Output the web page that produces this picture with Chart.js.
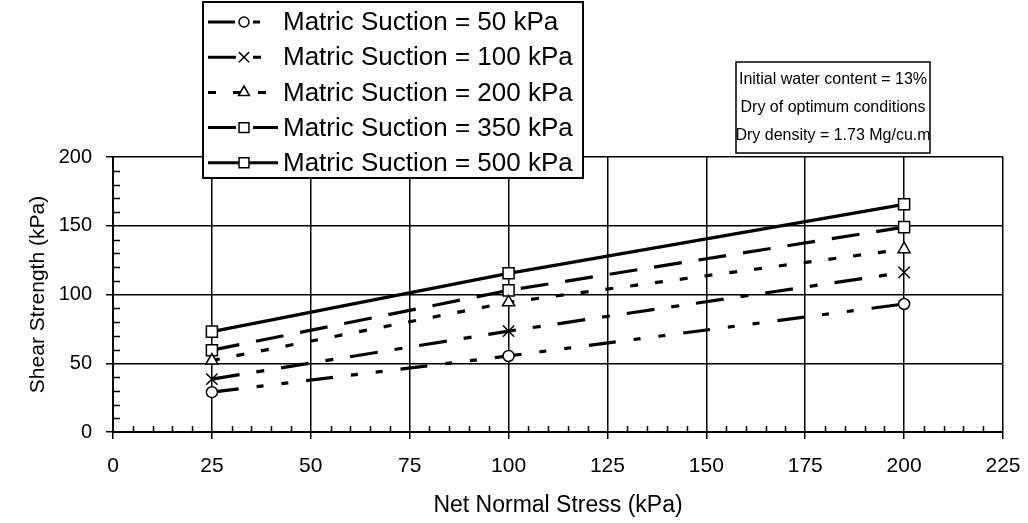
<!DOCTYPE html>
<html><head><meta charset="utf-8">
<script src="https://cdn.jsdelivr.net/npm/chart.js@4.4.1/dist/chart.umd.min.js"></script>
<style>html,body{margin:0;padding:0;background:#fff;}#wrap{width:1028px;height:523px;}</style>
</head><body><div id="wrap"><canvas id="c" width="1028" height="523"></canvas></div>
<script>
const netNormalStress = [25, 100, 200];
const suction50 = [29, 55.3, 93.1];
const suction100 = [38.5, 73.4, 116.1];
const suction200 = [52, 94.3, 133];
const suction350 = [59.5, 103, 149];
const suction500 = [73, 115.4, 165.6];
const seriesLabels = ['Matric Suction = 50 kPa','Matric Suction = 100 kPa','Matric Suction = 200 kPa','Matric Suction = 350 kPa','Matric Suction = 500 kPa'];
const noteLines = ['Initial water content = 13%','Dry of optimum conditions','Dry density = 1.73 Mg/cu.m'];
const xTitle = 'Net Normal Stress (kPa)';
const yTitle = 'Shear Strength (kPa)';

const FONT = '"Liberation Sans", Arial, sans-serif';
const styles = [
  {pointStyle:'circle', radius:5.5, dash:[27,18,7,18,7,18]},
  {pointStyle:'crossRot', radius:8, dash:[28,17,8,17]},
  {pointStyle:'triangle', radius:7, dash:[8,17]},
  {pointStyle:'rect', radius:7.8, dash:[28,17]},
  {pointStyle:'rect', radius:7.8, dash:[]}
];
const seriesValues = [suction50, suction100, suction200, suction350, suction500];
const datasets = seriesValues.map((vals, i) => ({
  label: seriesLabels[i],
  data: netNormalStress.map((x, j) => ({x: x, y: vals[j]})),
  borderColor: '#000',
  borderWidth: 3.2,
  borderDash: styles[i].dash,
  backgroundColor: '#fff',
  pointStyle: styles[i].pointStyle,
  pointRadius: styles[i].radius,
  pointBorderWidth: 1.5,
  pointBorderColor: '#000',
  pointBackgroundColor: '#fff',
  fill: false,
  tension: 0
}));

function drawMarker(ctx, style, r, x, y) {
  ctx.save();
  ctx.setLineDash([]);
  ctx.fillStyle = '#fff';
  ctx.strokeStyle = '#000';
  ctx.lineWidth = 1.5;
  Chart.helpers.drawPoint(ctx, {pointStyle: style, radius: r, rotation: 0, borderWidth: 1.5}, x, y);
  ctx.restore();
}

const minorTicks = {
  id: 'minorTicks',
  beforeDatasetsDraw(chart) {
    const {ctx, scales: {x, y}, chartArea: a} = chart;
    ctx.save();
    ctx.strokeStyle = '#000';
    ctx.lineWidth = 1.5;
    ctx.beginPath();
    for (let v = 5; v < 225; v += 5) {
      if (v % 25 === 0) continue;
      const px = Math.round(x.getPixelForValue(v)) + 0.5;
      ctx.moveTo(px, a.bottom); ctx.lineTo(px, a.bottom - 6);
    }
    for (let v = 10; v < 200; v += 10) {
      if (v % 50 === 0) continue;
      const py = Math.round(y.getPixelForValue(v)) + 0.5;
      ctx.moveTo(a.left, py); ctx.lineTo(a.left + 7, py);
    }
    ctx.stroke();
    ctx.restore();
  }
};

const boxes = {
  id: 'boxes',
  afterDraw(chart) {
    const ctx = chart.ctx;
    ctx.save();
    const L = {x: 203, y: 2, w: 380, h: 176};
    ctx.fillStyle = '#fff';
    ctx.fillRect(L.x, L.y, L.w, L.h);
    ctx.strokeStyle = '#000';
    ctx.lineWidth = 2;
    ctx.strokeRect(L.x, L.y, L.w, L.h);
    ctx.font = '26px ' + FONT;
    ctx.fillStyle = '#000';
    ctx.textBaseline = 'middle';
    ctx.textAlign = 'left';
    for (let i = 0; i < 5; i++) {
      const yy = 22 + i * 35.2;
      ctx.save();
      ctx.strokeStyle = '#000';
      ctx.lineWidth = 3;
      ctx.setLineDash(styles[i].dash);
      ctx.beginPath();
      ctx.moveTo(208, yy); ctx.lineTo(278, yy);
      ctx.stroke();
      ctx.restore();
      drawMarker(ctx, styles[i].pointStyle, styles[i].radius * 0.9, 244, yy);
      ctx.fillStyle = '#000';
      ctx.fillText(seriesLabels[i], 283, yy + 1);
    }
    const N = {x: 736, y: 62, w: 194, h: 91};
    ctx.fillStyle = '#fff';
    ctx.fillRect(N.x, N.y, N.w, N.h);
    ctx.lineWidth = 1.5;
    ctx.strokeStyle = '#000';
    ctx.strokeRect(N.x, N.y, N.w, N.h);
    ctx.font = '16px ' + FONT;
    ctx.fillStyle = '#000';
    ctx.textAlign = 'center';
    noteLines.forEach((t, i) => ctx.fillText(t, N.x + N.w / 2, 80 + i * 28));
    ctx.restore();
  }
};

new Chart(document.getElementById('c'), {
  type: 'line',
  data: {datasets},
  plugins: [minorTicks, boxes],
  options: {
    responsive: false,
    animation: false,
    devicePixelRatio: 1,
    layout: {padding: {top: 157, right: 25, left: 0, bottom: 0}},
    plugins: {legend: {display: false}, tooltip: {enabled: false}},
    scales: {
      x: {
        type: 'linear', min: 0, max: 225,
        ticks: {stepSize: 25, color: '#000', font: {family: FONT, size: 21}, padding: 15, maxRotation: 0},
        grid: {color: '#000', lineWidth: 1.5, tickLength: 7, drawTicks: true},
        border: {display: true, color: '#000', width: 2},
        title: {display: true, text: xTitle, color: '#000', font: {family: FONT, size: 23}, padding: {top: 0, bottom: 4}},
        afterFit(s) { s.height = 91; s.paddingLeft = 0; s.paddingRight = 0; }
      },
      y: {
        type: 'linear', min: 0, max: 200,
        ticks: {stepSize: 50, color: '#000', font: {family: FONT, size: 20}, padding: 14},
        grid: {color: '#000', lineWidth: 1.5, tickLength: 7},
        border: {display: true, color: '#000', width: 2},
        title: {display: true, text: yTitle, color: '#000', font: {family: FONT, size: 21}, padding: {top: 26, bottom: 0}},
        afterFit(s) { s.width = 113; }
      }
    }
  }
});
</script>
</body></html>
